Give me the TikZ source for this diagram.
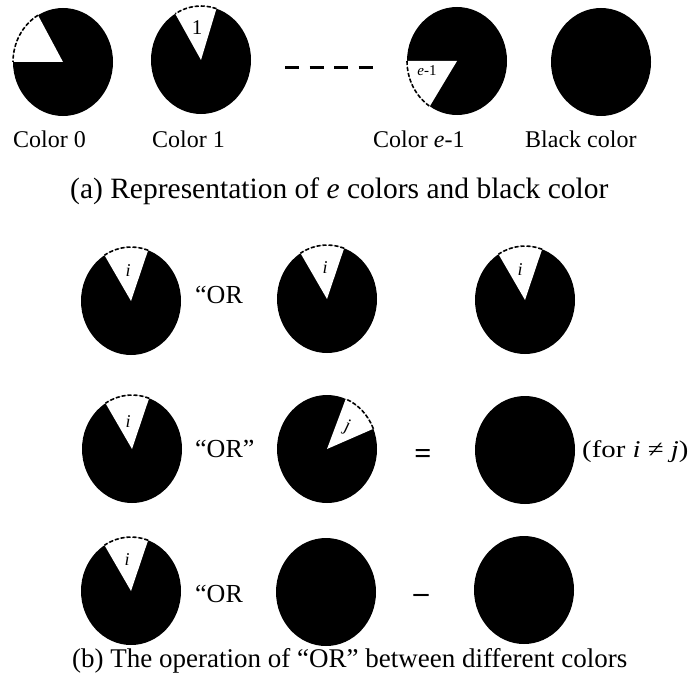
\documentclass[tikz,border=0pt]{standalone}
\usepackage{fontspec}
\setmainfont{Liberation Serif}
\usetikzlibrary{calc}
\newcommand\mypie[4]{%
  \coordinate (#1) at (#2);
  \fill[black] (#1) ellipse[x radius=50pt, y radius=54pt];
  \fill[white] (#1) -- ($(#1)+(#3:50pt and 54pt)$) arc[start angle=#3, end angle=#4, x radius=50pt, y radius=54pt] -- cycle;
  \draw[arcdash] ($(#1)+(#3:50pt and 54pt)$) arc[start angle=#3, end angle=#4, x radius=50pt, y radius=54pt];
}
\newcommand\myfull[2]{%
  \coordinate (#1) at (#2);
  \fill[black] (#1) ellipse[x radius=50pt, y radius=54pt];
}
\begin{document}
\begin{tikzpicture}[x=1pt,y=1pt,
  arcdash/.style={black, line width=1.6pt, dash pattern=on 4pt off 2pt},
  lbl/.style={font=\fontsize{24}{26}\selectfont, anchor=base west, inner sep=0pt},
  ortxt/.style={font=\fontsize{26}{28}\selectfont, anchor=base west, inner sep=0pt},
  wedgelbl/.style={font=\fontsize{18}{20}\selectfont, inner sep=0pt},
  capa/.style={font=\fontsize{29.5}{32}\selectfont, anchor=base west, inner sep=0pt},
  capb/.style={font=\fontsize{27}{30}\selectfont, anchor=base west, inner sep=0pt},
  sym/.style={font=\fontsize{30}{32}\selectfont\bfseries, inner sep=0pt}]
\fill[white] (0,0) rectangle (700,-690);
\useasboundingbox (0,0) rectangle (700,-690);

% (a) top row
\mypie{c0}{63,-62}{120}{180}
\mypie{c1}{201,-60}{72}{121}
\mypie{ce}{457,-61}{180}{237}
\myfull{cb}{601,-62}
\node[wedgelbl, font=\fontsize{21}{22}\selectfont] (l1) at (197,-28) {1};
\node[wedgelbl, font=\fontsize{15}{16}\selectfont] (le) at (427,-71) {\textit{e}-1};

\coordinate (dA) at (285,-68);
\coordinate (dB) at (373,-68);
\draw[line width=3pt, dash pattern=on 14pt off 10.5pt] (dA) -- (dB);

\node[lbl] (t0) at (13,-147) {Color 0};
\node[lbl] (t1) at (152,-147) {Color 1};
\node[lbl] (te) at (373,-147) {Color \textit{e}-1};
\node[lbl] (tb) at (525,-147) {Black color};

\node[capa] (capA) at (70,-198) {(a) Representation of \textit{e} colors and black color};

% (b) row 1
\mypie{r1a}{131,-301}{70}{122}
\mypie{r1b}{327,-299}{70}{122}
\mypie{r1c}{525,-300}{70}{122}
\node[wedgelbl] (i1a) at (128,-271) {\textit{i}};
\node[wedgelbl] (i1b) at (325,-268) {\textit{i}};
\node[wedgelbl] (i1c) at (520,-270) {\textit{i}};
\node[ortxt] (or1) at (195,-303) {“OR};

% (b) row 2
\mypie{r2a}{132,-449}{70}{122}
\mypie{r2b}{327,-449}{22}{68}
\myfull{r2c}{525,-450}
\node[wedgelbl] (i2a) at (128,-422) {\textit{i}};
\node[wedgelbl, rotate=-15] (j2b) at (347,-427) {\textit{j}};
\node[ortxt] (or2) at (195,-457) {“OR”};
\node[sym] (eq2) at (423,-456) {=};
\node[lbl] (cond) at (582,-457) {\scalebox{1.2}[1]{(for \textit{i} ≠ \textit{j})}};

% (b) row 3
\mypie{r3a}{131,-591}{70}{122}
\myfull{r3b}{326,-592}
\myfull{r3c}{524,-590}
\node[wedgelbl] (i3a) at (127,-560) {\textit{i}};
\node[ortxt] (or3) at (195,-602) {“OR};
\node[sym] (eq3) at (421,-598) {–};

\node[capb] (capB) at (72,-667) {(b) The operation of “OR” between different colors};
\end{tikzpicture}
\end{document}
